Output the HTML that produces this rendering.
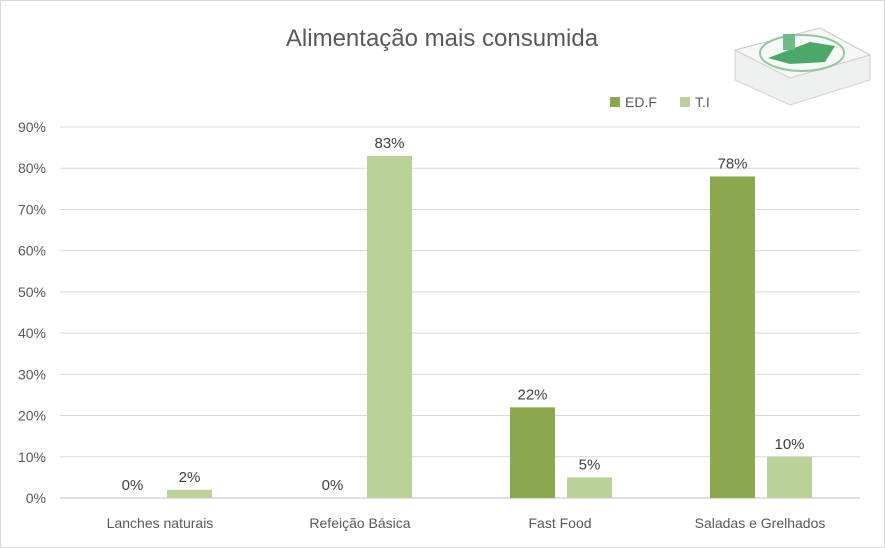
<!DOCTYPE html>
<html><head><meta charset="utf-8"><style>
body{margin:0;background:#fff;}
svg{display:block;font-family:"Liberation Sans",sans-serif;}
</style></head><body>
<svg id="c" width="885" height="548">
<rect x="0.5" y="0.5" width="884" height="547" fill="#fff" stroke="#d9d9d9"/>
<text x="442" y="46" text-anchor="middle" font-size="24" fill="#595959">Alimentação mais consumida</text>
<g>
<polygon points="735,50 820,28 870,55 870,80 790,105 735,80" fill="#eef0ef" stroke="#d0d4d2"/>
<polygon points="735,50 820,28 870,55 790,78" fill="#f6f7f6" stroke="#ccc"/>
<ellipse cx="802" cy="53" rx="42" ry="18" fill="none" stroke="#8fc9a0" stroke-width="2"/>
<polygon points="768,58 810,42 835,46 825,62 790,64" fill="#4aa86a"/>
<rect x="783" y="34" width="12" height="16" fill="#6dbb86"/>
</g>
<g id="grid"></g>
<g id="bars"></g>
<g id="legend">
<rect x="610" y="97" width="10" height="10" fill="#8aa94e"/>
<text x="625" y="107" font-size="14" fill="#595959">ED.F</text>
<rect x="680" y="97" width="10" height="10" fill="#bad19a"/>
<text x="695" y="107" font-size="14" fill="#595959">T.I</text>
</g>
</svg>
<script>
const categories=["Lanches naturais","Refeição Básica","Fast Food","Saladas e Grelhados"];
const edf=[0,0,22,78];
const ti=[2,83,5,10];
const ticks=[0,10,20,30,40,50,60,70,80,90];
const NS="http://www.w3.org/2000/svg";
const x0=60,x1=860,y0=498,y90=127;
const y=v=>y0-(v/90)*(y0-y90);
const bw=(x1-x0)/categories.length;
const g=document.getElementById('grid'),b=document.getElementById('bars');
function mk(t,a,p,txt){const e=document.createElementNS(NS,t);for(const k in a)e.setAttribute(k,a[k]);if(txt!==undefined)e.textContent=txt;p.appendChild(e);return e;}
ticks.forEach(t=>{
 const l=mk('line',{x1:x0,x2:x1,y1:y(t),y2:y(t),stroke:t===0?'#bfbfbf':'#d9d9d9'},g);
 
 
 const tx=mk('text',{x:46,y:y(t)+5,'text-anchor':'end','font-size':14,fill:'#595959'},g,t+'%');
 
 
});
categories.forEach((c,i)=>{
 const cx=x0+bw*(i+0.5);
 const t=mk('text',{x:cx,y:528,'text-anchor':'middle','font-size':14,fill:'#595959'},g,c);
 
 
 [[edf[i],'#8aa94e',cx-27.5,'edf'],[ti[i],'#bad19a',cx+29.5,'ti']].forEach(([v,col,bx,s])=>{
  const r=mk('rect',{x:bx-22.5,y:y(v),width:45,height:y0-y(v),fill:col},b);
  
  
  const lb=mk('text',{x:bx,y:y(v)-8,'text-anchor':'middle','font-size':15,fill:'#404040'},b,v+'%');
  
  
 });
});
</script>
</body></html>
